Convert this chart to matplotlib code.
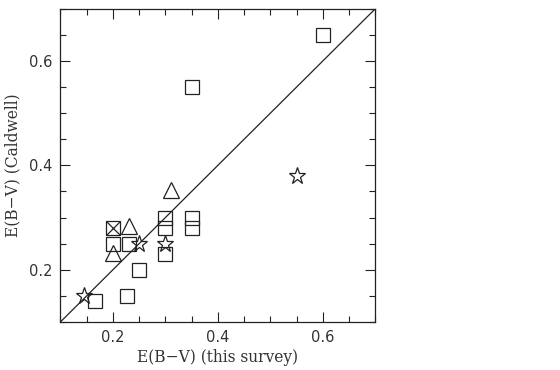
import matplotlib.pyplot as plt
from matplotlib.ticker import MultipleLocator

# squares (open)
sq_x = [0.60, 0.35, 0.165, 0.227, 0.25, 0.30, 0.30, 0.30, 0.35, 0.35, 0.20, 0.23]
sq_y = [0.65, 0.55, 0.14, 0.15, 0.20, 0.23, 0.28, 0.30, 0.28, 0.30, 0.25, 0.25]
# crossed square
xs_x = [0.20]
xs_y = [0.28]
# triangles
tri_x = [0.23, 0.20, 0.31]
tri_y = [0.283, 0.232, 0.352]
# stars
star_x = [0.25, 0.30, 0.145, 0.55]
star_y = [0.25, 0.25, 0.15, 0.38]

fig = plt.figure(figsize=(5.6, 3.7), dpi=100)
ax = fig.add_axes([0.108, 0.130, 0.562, 0.846])

col = '#222222'
ax.plot([0.1, 0.7], [0.1, 0.7], color=col, lw=0.9)
ax.plot(sq_x, sq_y, 's', ms=9.5, mfc='none', mec=col, mew=0.9)
ax.plot(xs_x, xs_y, 's', ms=9.5, mfc='none', mec=col, mew=0.9)
ax.plot(xs_x, xs_y, 'x', ms=9.5, mec=col, mew=0.9)
ax.plot(tri_x, tri_y, '^', ms=11, mfc='none', mec=col, mew=0.9)
ax.plot(star_x, star_y, '*', ms=12.5, mfc='none', mec=col, mew=0.9)

ax.set_xlim(0.1, 0.7)
ax.set_ylim(0.1, 0.7)
ax.xaxis.set_major_locator(MultipleLocator(0.2))
ax.yaxis.set_major_locator(MultipleLocator(0.2))
ax.xaxis.set_minor_locator(MultipleLocator(0.05))
ax.yaxis.set_minor_locator(MultipleLocator(0.05))
ax.tick_params(which='both', direction='in', top=True, right=True, width=0.8, color=col)
ax.tick_params(which='major', length=7, labelsize=10.5, pad=6, labelcolor='#333333')
ax.tick_params(which='minor', length=4)
for s in ax.spines.values():
    s.set_linewidth(0.9)
    s.set_color(col)

ax.set_xlabel('E(B\u2212V) (this survey)', family='DejaVu Serif', fontsize=11.2,
              labelpad=3, color='#333333')
ax.set_ylabel('E(B\u2212V) (Caldwell)', family='DejaVu Serif', fontsize=11.2,
              labelpad=5, color='#333333')

fig.savefig('out.png', dpi=100)
